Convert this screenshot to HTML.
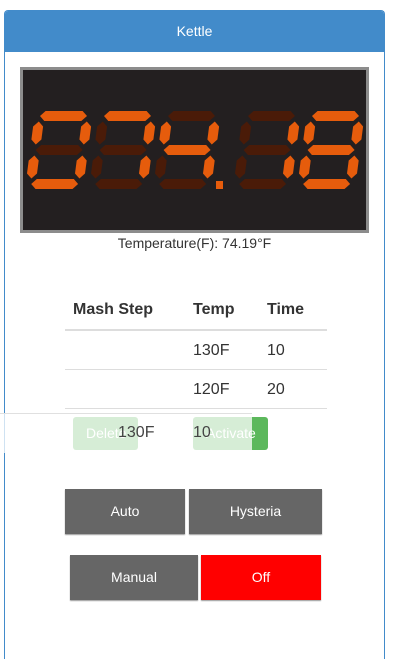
<!DOCTYPE html>
<html style="overflow:hidden;height:659px"><head><meta charset="utf-8">
<style>
body{margin:0;width:404px;height:659px;overflow:hidden;background:#fff;font-family:"Liberation Sans",sans-serif;position:relative;color:#333}
.abs{position:absolute}
.panel{left:4px;top:10px;width:381px;height:649px;border:1px solid #428bca;border-bottom:none;border-radius:4px 4px 0 0;box-sizing:border-box}
.head{left:5px;top:11px;width:379px;height:41px;background:#428bca;color:#fff;font-size:14px;text-align:center;line-height:41px;border-radius:3px 3px 0 0}
.disp{left:20px;top:67px;width:349px;height:166px;background:#231f20;border:3px solid #8c8c8c;box-sizing:border-box}
.btn{color:#fff;font-size:14px;text-align:center;background:#666;box-shadow:0 1px 1px rgba(0,0,0,.4)}
.th{font-weight:bold;font-size:16px;top:301px}
.td{font-size:16px}
.line{left:65px;width:262px;height:1px;background:#ddd}
</style></head><body>
<div class="abs panel"></div>
<div class="abs head">Kettle</div>
<div class="abs disp">
<svg id="seg" width="343" height="160" style="position:absolute;left:0;top:0"></svg>
</div>
<div class="abs" style="left:4px;width:381px;top:235px;text-align:center;font-size:14px">Temperature(F): 74.19°F</div>

<div class="abs th" style="left:73px">Mash Step</div>
<div class="abs th" style="left:193px">Temp</div>
<div class="abs th" style="left:267px">Time</div>
<div class="abs line" style="top:329px;height:2px"></div>
<div class="abs td" style="left:193px;top:342px">130F</div>
<div class="abs td" style="left:267px;top:342px">10</div>
<div class="abs line" style="top:369px"></div>
<div class="abs td" style="left:193px;top:381px">120F</div>
<div class="abs td" style="left:267px;top:381px">20</div>
<div class="abs line" style="top:408px"></div>

<div class="abs" style="left:73px;top:417px;width:65px;height:33px;background:#5cb85c;border-radius:3px"></div>
<div class="abs" style="left:193px;top:417px;width:75px;height:33px;background:#5cb85c;border-radius:3px"></div>
<div class="abs" style="left:0;top:413px;width:252px;height:39px;background:rgba(255,255,255,.75);border-top:1px solid #e0e0e0"></div>
<div class="abs" style="left:86px;top:425px;font-size:14px;color:#fff">Delete</div>
<div class="abs" style="left:206px;top:425px;font-size:14px;color:#fff">Activate</div>
<div class="abs td" style="left:118px;top:424px;color:#444">130F</div>
<div class="abs td" style="left:193px;top:424px;color:#444">10</div>

<div class="abs btn" style="left:65px;top:489px;width:120px;height:45px;line-height:45px">Auto</div>
<div class="abs btn" style="left:189px;top:489px;width:133px;height:45px;line-height:45px">Hysteria</div>
<div class="abs btn" style="left:70px;top:555px;width:128px;height:45px;line-height:45px">Manual</div>
<div class="abs btn" style="left:201px;top:555px;width:120px;height:45px;line-height:45px;background:#f00">Off</div>

<script>
const digits = ['0','7','4','1','8'];
const digitX = [2, 66, 130, 210, 274];
const segMap = {'0':'abcdef','1':'bc','2':'abged','3':'abgcd','4':'fgbc','5':'afgcd','6':'afgedc','7':'abc','8':'abcdefg','9':'abcfgd'};
const svg = document.getElementById('seg');
const NS = 'http://www.w3.org/2000/svg';
const W=58,H=78,T=10,TOP=41,SK=0.13,G=0.5;
function pt(x,y){return [(x+(H-y)*SK).toFixed(1),(y+TOP).toFixed(1)].join(',');}
function hseg(x0,y){return [[x0+T/2+G,y],[x0+T+G,y-T/2],[x0+W-T-G,y-T/2],[x0+W-T/2-G,y],[x0+W-T-G,y+T/2],[x0+T+G,y+T/2]];}
function vseg(x,y0,y1){return [[x,y0+T/2+G],[x+T/2,y0+T+G],[x+T/2,y1-T-G],[x,y1-T/2-G],[x-T/2,y1-T-G],[x-T/2,y0+T+G]];}
digits.forEach((d,i)=>{
  const x0=digitX[i];
  const segs={a:hseg(x0,T/2),g:hseg(x0,H/2),d:hseg(x0,H-T/2),
    f:vseg(x0+T/2,T/2,H/2),b:vseg(x0+W-T/2,T/2,H/2),e:vseg(x0+T/2,H/2,H-T/2),c:vseg(x0+W-T/2,H/2,H-T/2)};
  for(const k in segs){
    const p=document.createElementNS(NS,'polygon');
    p.setAttribute('points',segs[k].map(q=>pt(q[0],q[1])).join(' '));
    p.setAttribute('fill',segMap[d].includes(k)?'#e65c0c':'#4a1b08');
    
    
    svg.appendChild(p);
  }
});
const dp=document.createElementNS(NS,'rect');
dp.setAttribute('x',193);dp.setAttribute('y',TOP+H-8);dp.setAttribute('width',7);dp.setAttribute('height',8);dp.setAttribute('fill','#e65c0c');


svg.appendChild(dp);
</script>
</body></html>
